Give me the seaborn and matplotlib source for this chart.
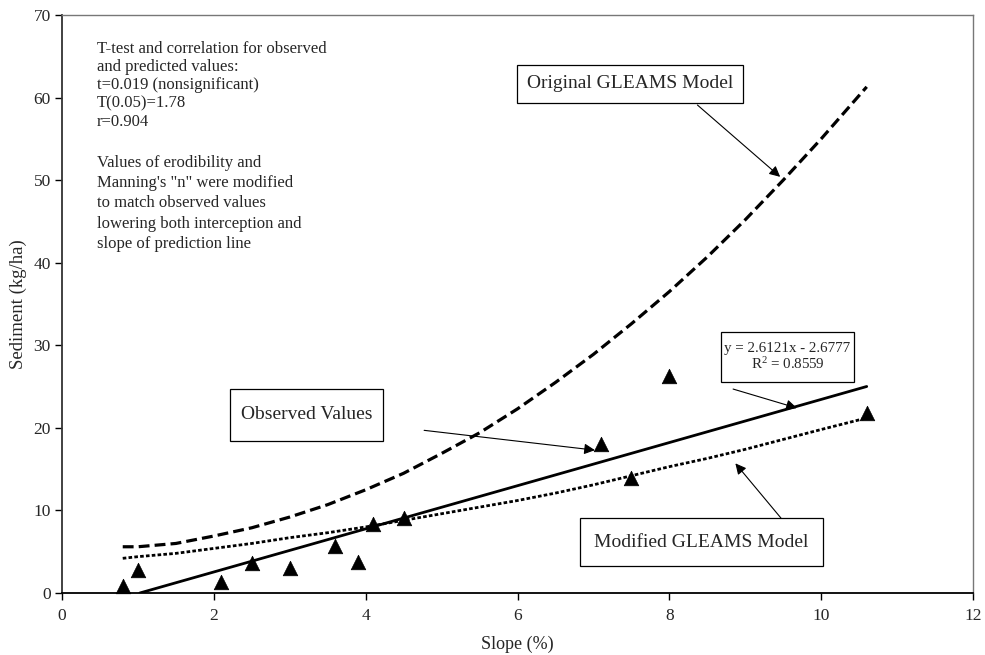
import numpy as np
import pandas as pd
import matplotlib
matplotlib.use("Agg")
import matplotlib.pyplot as plt
from matplotlib.patches import Rectangle
import seaborn as sns

# Observed sediment yield by slope
slope_obs = [0.8, 1.0, 2.1, 2.5, 3.0, 3.6, 3.9, 4.1, 4.5, 7.1, 7.5, 8.0, 10.6]
sed_obs = [0.8, 2.8, 1.3, 3.6, 3.0, 5.7, 3.7, 8.3, 9.1, 18.0, 13.9, 26.3, 21.8]

# Model predictions (trend lines)
model_x = [0.8, 1.0, 1.5, 2.0, 2.5, 3.0, 3.5, 4.0, 4.5, 5.0, 5.5, 6.0,
           6.5, 7.0, 7.5, 8.0, 8.5, 9.0, 9.5, 10.0, 10.6]
original_gleams = [5.6, 5.6, 6.0, 6.9, 7.9, 9.2, 10.7, 12.5, 14.5, 16.9, 19.4,
                   22.3, 25.5, 28.9, 32.6, 36.5, 40.7, 45.2, 50.0, 55.0, 61.3]
modified_gleams = [4.2, 4.4, 4.8, 5.4, 6.0, 6.7, 7.3, 8.0, 8.8, 9.6, 10.4,
                   11.2, 12.1, 13.1, 14.2, 15.3, 16.3, 17.4, 18.6, 19.8, 21.2]

# Linear fit of observed values
REG_SLOPE = 2.6121
REG_INTERCEPT = -2.6777
R_SQUARED = 0.8559

x_ticks = [0, 2, 4, 6, 8, 10, 12]
y_ticks = [0, 10, 20, 30, 40, 50, 60, 70]

sns.set_theme(style="white")
plt.rcParams["font.family"] = ["Liberation Serif", "DejaVu Serif"]
plt.rcParams["mathtext.fontset"] = "custom"
plt.rcParams["mathtext.rm"] = "Liberation Serif"

fig = plt.figure(figsize=(9.85, 6.55), dpi=100)
ax = fig.add_axes([62 / 985, 62 / 655, 911 / 985, 578 / 655])

obs_df = pd.DataFrame({"slope": slope_obs, "sediment": sed_obs})
model_df = pd.DataFrame({"slope": model_x, "original": original_gleams,
                         "modified": modified_gleams})

sns.lineplot(data=model_df, x="slope", y="original", ax=ax, color="black",
             lw=2.3, linestyle=(0, (3.4, 1.6)), sort=False, estimator=None)
sns.lineplot(data=model_df, x="slope", y="modified", ax=ax, color="black",
             lw=2.0, linestyle=(0, (1.3, 0.8)), sort=False, estimator=None)

reg_x = np.array([-REG_INTERCEPT / REG_SLOPE, max(slope_obs)])
reg_y = REG_SLOPE * reg_x + REG_INTERCEPT
sns.lineplot(x=reg_x, y=reg_y, ax=ax, color="black", lw=2.0,
             sort=False, estimator=None)

sns.scatterplot(data=obs_df, x="slope", y="sediment", ax=ax, marker="^",
                s=110, color="black", edgecolor="black", linewidth=0.5,
                zorder=5, clip_on=False)

ax.set_xlim(0, 12)
ax.set_ylim(0, 70)
ax.set_xticks(x_ticks)
ax.set_yticks(y_ticks)
ax.tick_params(axis="both", which="major", direction="out", length=5,
               width=1, color="black", labelsize=12.5, bottom=True, left=True,
               pad=3)
ax.tick_params(axis="x", pad=6)
ax.set_xlabel("Slope (%)", fontsize=13, labelpad=8)
ax.set_ylabel("Sediment (kg/ha)", fontsize=13.5, labelpad=5)

for side in ["top", "right"]:
    ax.spines[side].set_color("#777777")
    ax.spines[side].set_linewidth(1.0)
ax.spines["left"].set_color("#333333")
ax.spines["left"].set_linewidth(1.3)
ax.spines["bottom"].set_color("black")
ax.spines["bottom"].set_linewidth(1.3)

# Statistics notes
ax.text(0.46, 66.9,
        "T-test and correlation for observed\nand predicted values:\n"
        "t=0.019 (nonsignificant)\nT(0.05)=1.78\nr=0.904",
        fontsize=12, va="top", ha="left", linespacing=1.2)
ax.text(0.46, 53.1,
        "Values of erodibility and\nManning's \"n\" were modified\n"
        "to match observed values\nlowering both interception and\n"
        "slope of prediction line",
        fontsize=12, va="top", ha="left", linespacing=1.36)


def label_box(x0, x1, y0, y1, text, size):
    ax.add_patch(Rectangle((x0, y0), x1 - x0, y1 - y0, facecolor="white",
                           edgecolor="black", lw=0.9, zorder=6))
    ax.text((x0 + x1) / 2, (y0 + y1) / 2, text, fontsize=size, ha="center",
            va="center", zorder=7, linespacing=1.15)


def arrow(start, tip):
    ax.annotate("", xy=tip, xytext=start, zorder=6,
                arrowprops=dict(arrowstyle="-|>", color="black", lw=0.8,
                                mutation_scale=16, shrinkA=0, shrinkB=0))


label_box(5.995, 8.97, 59.34, 63.95, "Original GLEAMS Model", 14)
label_box(2.21, 4.23, 18.41, 24.71, "Observed Values", 14)
label_box(6.82, 10.03, 3.27, 9.08, "Modified GLEAMS Model", 14)
label_box(8.68, 10.43, 25.55, 31.61,
          f"y = {REG_SLOPE}x - {abs(REG_INTERCEPT)}\n$\\mathregular{{R^2}}$ = {R_SQUARED}",
          10.8)

arrow((8.37, 59.1), (9.46, 50.4))
arrow((4.77, 19.7), (7.02, 17.3))
arrow((8.84, 24.7), (9.68, 22.4))
arrow((9.47, 9.08), (8.87, 15.7))

fig.savefig("out.png", dpi=100)
